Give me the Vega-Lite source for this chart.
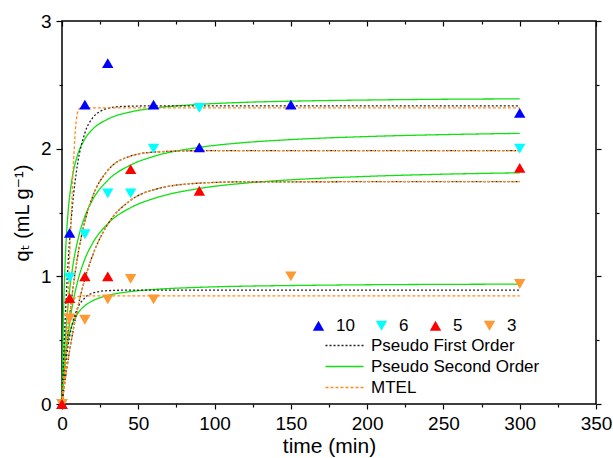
{
  "$schema": "https://vega.github.io/schema/vega-lite/v6.json",
  "width": 534,
  "height": 383,
  "autosize": "none",
  "padding": {"left": 62, "top": 21, "right": 17, "bottom": 54},
  "background": "white",
  "config": {
    "font": "Liberation Sans, Arial, DejaVu Sans, sans-serif",
    "view": {"stroke": "black", "strokeWidth": 1.5},
    "axis": {"domain": false, "grid": false, "tickColor": "black", "tickWidth": 1.2, "labelColor": "black", "titleColor": "black", "labelFont": "Liberation Sans, DejaVu Sans", "titleFont": "Liberation Sans, DejaVu Sans", "titleFontWeight": "normal"},
    "legend": {"labelFont": "Liberation Sans, DejaVu Sans", "labelColor": "black", "labelFontSize": 17, "padding": 0, "labelLimit": 400}
  },
  "datasets": {
    "pts": [
      {"s": "10", "t": 0, "q": 0}, {"s": "10", "t": 5, "q": 1.34}, {"s": "10", "t": 15, "q": 2.345}, {"s": "10", "t": 30, "q": 2.67}, {"s": "10", "t": 60, "q": 2.345}, {"s": "10", "t": 90, "q": 2.01}, {"s": "10", "t": 150, "q": 2.345}, {"s": "10", "t": 300, "q": 2.28},
      {"s": "6", "t": 0, "q": 0}, {"s": "6", "t": 5, "q": 0.99}, {"s": "6", "t": 15, "q": 1.33}, {"s": "6", "t": 30, "q": 1.65}, {"s": "6", "t": 45, "q": 1.65}, {"s": "6", "t": 60, "q": 2.0}, {"s": "6", "t": 90, "q": 2.32}, {"s": "6", "t": 300, "q": 2.0},
      {"s": "3", "t": 0, "q": 0}, {"s": "3", "t": 5, "q": 0.67}, {"s": "3", "t": 15, "q": 0.66}, {"s": "3", "t": 30, "q": 0.82}, {"s": "3", "t": 45, "q": 0.98}, {"s": "3", "t": 60, "q": 0.82}, {"s": "3", "t": 150, "q": 1.0}, {"s": "3", "t": 300, "q": 0.94},
      {"s": "5", "t": 0, "q": 0}, {"s": "5", "t": 5, "q": 0.83}, {"s": "5", "t": 15, "q": 1.0}, {"s": "5", "t": 30, "q": 1.0}, {"s": "5", "t": 45, "q": 1.84}, {"s": "5", "t": 90, "q": 1.67}, {"s": "5", "t": 300, "q": 1.85}
    ],
    "fits": [
      {"s": "10", "m": "P2", "t": 0, "q": 0}, {"s": "10", "m": "P2", "t": 1, "q": 0.707}, {"s": "10", "m": "P2", "t": 2, "q": 1.093}, {"s": "10", "m": "P2", "t": 3, "q": 1.336}, {"s": "10", "m": "P2", "t": 4, "q": 1.504}, {"s": "10", "m": "P2", "t": 5, "q": 1.626}, {"s": "10", "m": "P2", "t": 7, "q": 1.793}, {"s": "10", "m": "P2", "t": 10, "q": 1.942}, {"s": "10", "m": "P2", "t": 15, "q": 2.076}, {"s": "10", "m": "P2", "t": 20, "q": 2.151}, {"s": "10", "m": "P2", "t": 30, "q": 2.231}, {"s": "10", "m": "P2", "t": 45, "q": 2.288}, {"s": "10", "m": "P2", "t": 60, "q": 2.317}, {"s": "10", "m": "P2", "t": 90, "q": 2.347}, {"s": "10", "m": "P2", "t": 120, "q": 2.363}, {"s": "10", "m": "P2", "t": 150, "q": 2.372}, {"s": "10", "m": "P2", "t": 200, "q": 2.381}, {"s": "10", "m": "P2", "t": 250, "q": 2.387}, {"s": "10", "m": "P2", "t": 300, "q": 2.39},
      {"s": "6", "m": "P2", "t": 0, "q": 0}, {"s": "6", "m": "P2", "t": 1, "q": 0.266}, {"s": "6", "m": "P2", "t": 2, "q": 0.474}, {"s": "6", "m": "P2", "t": 3, "q": 0.641}, {"s": "6", "m": "P2", "t": 5, "q": 0.892}, {"s": "6", "m": "P2", "t": 7, "q": 1.073}, {"s": "6", "m": "P2", "t": 10, "q": 1.265}, {"s": "6", "m": "P2", "t": 15, "q": 1.469}, {"s": "6", "m": "P2", "t": 20, "q": 1.598}, {"s": "6", "m": "P2", "t": 30, "q": 1.752}, {"s": "6", "m": "P2", "t": 45, "q": 1.872}, {"s": "6", "m": "P2", "t": 60, "q": 1.939}, {"s": "6", "m": "P2", "t": 90, "q": 2.01}, {"s": "6", "m": "P2", "t": 120, "q": 2.048}, {"s": "6", "m": "P2", "t": 150, "q": 2.071}, {"s": "6", "m": "P2", "t": 200, "q": 2.095}, {"s": "6", "m": "P2", "t": 250, "q": 2.11}, {"s": "6", "m": "P2", "t": 300, "q": 2.12},
      {"s": "5", "m": "P2", "t": 0, "q": 0}, {"s": "5", "m": "P2", "t": 1, "q": 0.174}, {"s": "5", "m": "P2", "t": 2, "q": 0.319}, {"s": "5", "m": "P2", "t": 3, "q": 0.441}, {"s": "5", "m": "P2", "t": 5, "q": 0.635}, {"s": "5", "m": "P2", "t": 7, "q": 0.783}, {"s": "5", "m": "P2", "t": 10, "q": 0.948}, {"s": "5", "m": "P2", "t": 15, "q": 1.135}, {"s": "5", "m": "P2", "t": 20, "q": 1.258}, {"s": "5", "m": "P2", "t": 30, "q": 1.412}, {"s": "5", "m": "P2", "t": 45, "q": 1.538}, {"s": "5", "m": "P2", "t": 60, "q": 1.609}, {"s": "5", "m": "P2", "t": 90, "q": 1.688}, {"s": "5", "m": "P2", "t": 120, "q": 1.73}, {"s": "5", "m": "P2", "t": 150, "q": 1.756}, {"s": "5", "m": "P2", "t": 200, "q": 1.783}, {"s": "5", "m": "P2", "t": 250, "q": 1.8}, {"s": "5", "m": "P2", "t": 300, "q": 1.811},
      {"s": "3", "m": "P2", "t": 0, "q": 0}, {"s": "3", "m": "P2", "t": 1, "q": 0.21}, {"s": "3", "m": "P2", "t": 2, "q": 0.344}, {"s": "3", "m": "P2", "t": 3, "q": 0.437}, {"s": "3", "m": "P2", "t": 5, "q": 0.558}, {"s": "3", "m": "P2", "t": 7, "q": 0.632}, {"s": "3", "m": "P2", "t": 10, "q": 0.703}, {"s": "3", "m": "P2", "t": 15, "q": 0.77}, {"s": "3", "m": "P2", "t": 20, "q": 0.808}, {"s": "3", "m": "P2", "t": 30, "q": 0.85}, {"s": "3", "m": "P2", "t": 45, "q": 0.881}, {"s": "3", "m": "P2", "t": 60, "q": 0.897}, {"s": "3", "m": "P2", "t": 90, "q": 0.914}, {"s": "3", "m": "P2", "t": 120, "q": 0.923}, {"s": "3", "m": "P2", "t": 150, "q": 0.928}, {"s": "3", "m": "P2", "t": 200, "q": 0.934}, {"s": "3", "m": "P2", "t": 250, "q": 0.937}, {"s": "3", "m": "P2", "t": 300, "q": 0.939},
      {"s": "10", "m": "P1", "t": 0, "q": 0}, {"s": "10", "m": "P1", "t": 1, "q": 0.346}, {"s": "10", "m": "P1", "t": 2, "q": 0.64}, {"s": "10", "m": "P1", "t": 3, "q": 0.89}, {"s": "10", "m": "P1", "t": 4, "q": 1.105}, {"s": "10", "m": "P1", "t": 5, "q": 1.286}, {"s": "10", "m": "P1", "t": 7, "q": 1.573}, {"s": "10", "m": "P1", "t": 10, "q": 1.864}, {"s": "10", "m": "P1", "t": 15, "q": 2.123}, {"s": "10", "m": "P1", "t": 20, "q": 2.24}, {"s": "10", "m": "P1", "t": 25, "q": 2.292}, {"s": "10", "m": "P1", "t": 30, "q": 2.316}, {"s": "10", "m": "P1", "t": 40, "q": 2.331}, {"s": "10", "m": "P1", "t": 60, "q": 2.335}, {"s": "10", "m": "P1", "t": 300, "q": 2.335},
      {"s": "6", "m": "P1", "t": 0, "q": 0}, {"s": "6", "m": "P1", "t": 1, "q": 0.162}, {"s": "6", "m": "P1", "t": 2, "q": 0.311}, {"s": "6", "m": "P1", "t": 3, "q": 0.447}, {"s": "6", "m": "P1", "t": 5, "q": 0.687}, {"s": "6", "m": "P1", "t": 7, "q": 0.889}, {"s": "6", "m": "P1", "t": 10, "q": 1.137}, {"s": "6", "m": "P1", "t": 15, "q": 1.431}, {"s": "6", "m": "P1", "t": 20, "q": 1.622}, {"s": "6", "m": "P1", "t": 30, "q": 1.83}, {"s": "6", "m": "P1", "t": 45, "q": 1.942}, {"s": "6", "m": "P1", "t": 60, "q": 1.973}, {"s": "6", "m": "P1", "t": 90, "q": 1.984}, {"s": "6", "m": "P1", "t": 300, "q": 1.985},
      {"s": "5", "m": "P1", "t": 0, "q": 0}, {"s": "5", "m": "P1", "t": 1, "q": 0.093}, {"s": "5", "m": "P1", "t": 2, "q": 0.181}, {"s": "5", "m": "P1", "t": 3, "q": 0.264}, {"s": "5", "m": "P1", "t": 5, "q": 0.418}, {"s": "5", "m": "P1", "t": 7, "q": 0.557}, {"s": "5", "m": "P1", "t": 10, "q": 0.737}, {"s": "5", "m": "P1", "t": 15, "q": 0.979}, {"s": "5", "m": "P1", "t": 20, "q": 1.162}, {"s": "5", "m": "P1", "t": 30, "q": 1.408}, {"s": "5", "m": "P1", "t": 45, "q": 1.596}, {"s": "5", "m": "P1", "t": 60, "q": 1.678}, {"s": "5", "m": "P1", "t": 90, "q": 1.73}, {"s": "5", "m": "P1", "t": 120, "q": 1.74}, {"s": "5", "m": "P1", "t": 300, "q": 1.742},
      {"s": "3", "m": "P1", "t": 0, "q": 0}, {"s": "3", "m": "P1", "t": 1, "q": 0.147}, {"s": "3", "m": "P1", "t": 2, "q": 0.269}, {"s": "3", "m": "P1", "t": 3, "q": 0.372}, {"s": "3", "m": "P1", "t": 5, "q": 0.529}, {"s": "3", "m": "P1", "t": 7, "q": 0.639}, {"s": "3", "m": "P1", "t": 10, "q": 0.745}, {"s": "3", "m": "P1", "t": 15, "q": 0.832}, {"s": "3", "m": "P1", "t": 20, "q": 0.868}, {"s": "3", "m": "P1", "t": 30, "q": 0.888}, {"s": "3", "m": "P1", "t": 45, "q": 0.892}, {"s": "3", "m": "P1", "t": 300, "q": 0.892},
      {"s": "10", "m": "M", "t": 0, "q": 0}, {"s": "10", "m": "M", "t": 1, "q": 0.12}, {"s": "10", "m": "M", "t": 2, "q": 0.3}, {"s": "10", "m": "M", "t": 3, "q": 0.55}, {"s": "10", "m": "M", "t": 4, "q": 0.85}, {"s": "10", "m": "M", "t": 5, "q": 1.15}, {"s": "10", "m": "M", "t": 6, "q": 1.45}, {"s": "10", "m": "M", "t": 7, "q": 1.75}, {"s": "10", "m": "M", "t": 8, "q": 2.0}, {"s": "10", "m": "M", "t": 9, "q": 2.18}, {"s": "10", "m": "M", "t": 10, "q": 2.27}, {"s": "10", "m": "M", "t": 11, "q": 2.31}, {"s": "10", "m": "M", "t": 13, "q": 2.32}, {"s": "10", "m": "M", "t": 300, "q": 2.32},
      {"s": "6", "m": "M", "t": 0, "q": 0}, {"s": "6", "m": "M", "t": 1, "q": 0.162}, {"s": "6", "m": "M", "t": 2, "q": 0.311}, {"s": "6", "m": "M", "t": 3, "q": 0.447}, {"s": "6", "m": "M", "t": 5, "q": 0.687}, {"s": "6", "m": "M", "t": 7, "q": 0.889}, {"s": "6", "m": "M", "t": 10, "q": 1.137}, {"s": "6", "m": "M", "t": 15, "q": 1.431}, {"s": "6", "m": "M", "t": 20, "q": 1.622}, {"s": "6", "m": "M", "t": 30, "q": 1.83}, {"s": "6", "m": "M", "t": 45, "q": 1.942}, {"s": "6", "m": "M", "t": 60, "q": 1.973}, {"s": "6", "m": "M", "t": 90, "q": 1.984}, {"s": "6", "m": "M", "t": 300, "q": 1.985},
      {"s": "5", "m": "M", "t": 0, "q": 0}, {"s": "5", "m": "M", "t": 1, "q": 0.093}, {"s": "5", "m": "M", "t": 2, "q": 0.181}, {"s": "5", "m": "M", "t": 3, "q": 0.264}, {"s": "5", "m": "M", "t": 5, "q": 0.418}, {"s": "5", "m": "M", "t": 7, "q": 0.557}, {"s": "5", "m": "M", "t": 10, "q": 0.737}, {"s": "5", "m": "M", "t": 15, "q": 0.979}, {"s": "5", "m": "M", "t": 20, "q": 1.162}, {"s": "5", "m": "M", "t": 30, "q": 1.408}, {"s": "5", "m": "M", "t": 45, "q": 1.596}, {"s": "5", "m": "M", "t": 60, "q": 1.678}, {"s": "5", "m": "M", "t": 90, "q": 1.73}, {"s": "5", "m": "M", "t": 120, "q": 1.74}, {"s": "5", "m": "M", "t": 300, "q": 1.742},
      {"s": "3", "m": "M", "t": 0, "q": 0}, {"s": "3", "m": "M", "t": 1, "q": 0.15}, {"s": "3", "m": "M", "t": 2, "q": 0.3}, {"s": "3", "m": "M", "t": 3, "q": 0.45}, {"s": "3", "m": "M", "t": 5, "q": 0.68}, {"s": "3", "m": "M", "t": 7, "q": 0.8}, {"s": "3", "m": "M", "t": 10, "q": 0.84}, {"s": "3", "m": "M", "t": 15, "q": 0.847}, {"s": "3", "m": "M", "t": 300, "q": 0.847}
    ]
  },
  "layer": [
    {
      "data": {"name": "fits"},
      "mark": {"type": "line", "strokeWidth": 1.3, "interpolate": "monotone"},
      "encoding": {
        "x": {"field": "t", "type": "quantitative", "scale": {"domain": [0, 350], "nice": false},
          "axis": {"orient": "bottom", "values": [0, 25, 50, 75, 100, 125, 150, 175, 200, 225, 250, 275, 300, 325, 350], "labelExpr": "datum.value % 50 === 0 ? datum.label : ''", "tickSize": {"condition": {"test": "datum.value % 50 === 0", "value": 5}, "value": 3}, "labelFontSize": 19, "labelPadding": 5, "labelFlush": false, "title": "time (min)", "titleFontSize": 21, "titlePadding": 2}},
        "y": {"field": "q", "type": "quantitative", "scale": {"domain": [0, 3], "nice": false},
          "axis": {"orient": "left", "values": [0, 0.5, 1, 1.5, 2, 2.5, 3], "labelExpr": "datum.value % 1 === 0 ? format(datum.value, 'd') : ''", "tickSize": {"condition": {"test": "datum.value % 1 === 0", "value": 6}, "value": 3}, "labelFontSize": 19, "labelPadding": 5, "labelFlush": false, "title": "qₜ (mL g⁻¹)", "titleFontSize": 20, "titlePadding": 8}},
        "detail": {"field": "s"},
        "stroke": {"field": "m", "type": "nominal", "scale": {"domain": ["P1", "P2", "M"], "range": ["#222222", "#11E011", "#FF8C1A"]},
          "legend": {"title": null, "orient": "none", "legendX": 272, "legendY": 314, "direction": "vertical", "symbolType": "M-2,0H2", "symbolSize": 361, "symbolStrokeWidth": 1.5, "labelOffset": 16, "rowPadding": 2, "labelExpr": "datum.label === 'P1' ? 'Pseudo First Order' : datum.label === 'P2' ? 'Pseudo Second Order' : 'MTEL'"}},
        "strokeDash": {"field": "m", "type": "nominal", "scale": {"domain": ["P1", "P2", "M"], "range": [[2, 2], [1, 0], [3, 2]]},
          "legend": {"title": null, "orient": "none", "legendX": 272, "legendY": 314, "direction": "vertical", "symbolType": "M-2,0H2", "symbolSize": 361, "symbolStrokeWidth": 1.5, "labelOffset": 16, "rowPadding": 2, "labelExpr": "datum.label === 'P1' ? 'Pseudo First Order' : datum.label === 'P2' ? 'Pseudo Second Order' : 'MTEL'"}}
      }
    },
    {
      "data": {"name": "pts"},
      "mark": {"type": "point", "filled": true, "size": 130, "opacity": 1, "strokeWidth": 1},
      "encoding": {
        "x": {"field": "t", "type": "quantitative", "axis": null},
        "y": {"field": "q", "type": "quantitative", "axis": null},
        "fill": {"field": "s", "type": "nominal", "scale": {"domain": ["10", "6", "5", "3"], "range": ["#0000FF", "#00FFFF", "#FF0000", "#FF9933"]},
          "legend": {"title": null, "orient": "none", "legendX": 248, "legendY": 296, "direction": "horizontal", "columns": 4, "symbolSize": 130, "labelOffset": 9, "columnPadding": 17}},
        "shape": {"field": "s", "type": "nominal", "scale": {"domain": ["10", "6", "5", "3"], "range": ["triangle-up", "triangle-down", "triangle-up", "triangle-down"]},
          "legend": {"title": null, "orient": "none", "legendX": 248, "legendY": 296, "direction": "horizontal", "columns": 4, "symbolSize": 130, "labelOffset": 9, "columnPadding": 17}}
      }
    },
    {
      "data": {"name": "pts"},
      "mark": {"type": "point", "opacity": 0},
      "encoding": {
        "x": {"field": "t", "type": "quantitative",
          "axis": {"orient": "top", "values": [0, 25, 50, 75, 100, 125, 150, 175, 200, 225, 250, 275, 300, 325, 350], "labels": false, "title": null, "tickSize": {"condition": {"test": "datum.value % 50 === 0", "value": -5}, "value": -3}}},
        "y": {"field": "q", "type": "quantitative",
          "axis": {"orient": "right", "values": [0, 0.5, 1, 1.5, 2, 2.5, 3], "labels": false, "title": null, "tickSize": {"condition": {"test": "datum.value % 1 === 0", "value": 5}, "value": 3}}}
      }
    }
  ],
  "resolve": {"axis": {"x": "independent", "y": "independent"}}
}
